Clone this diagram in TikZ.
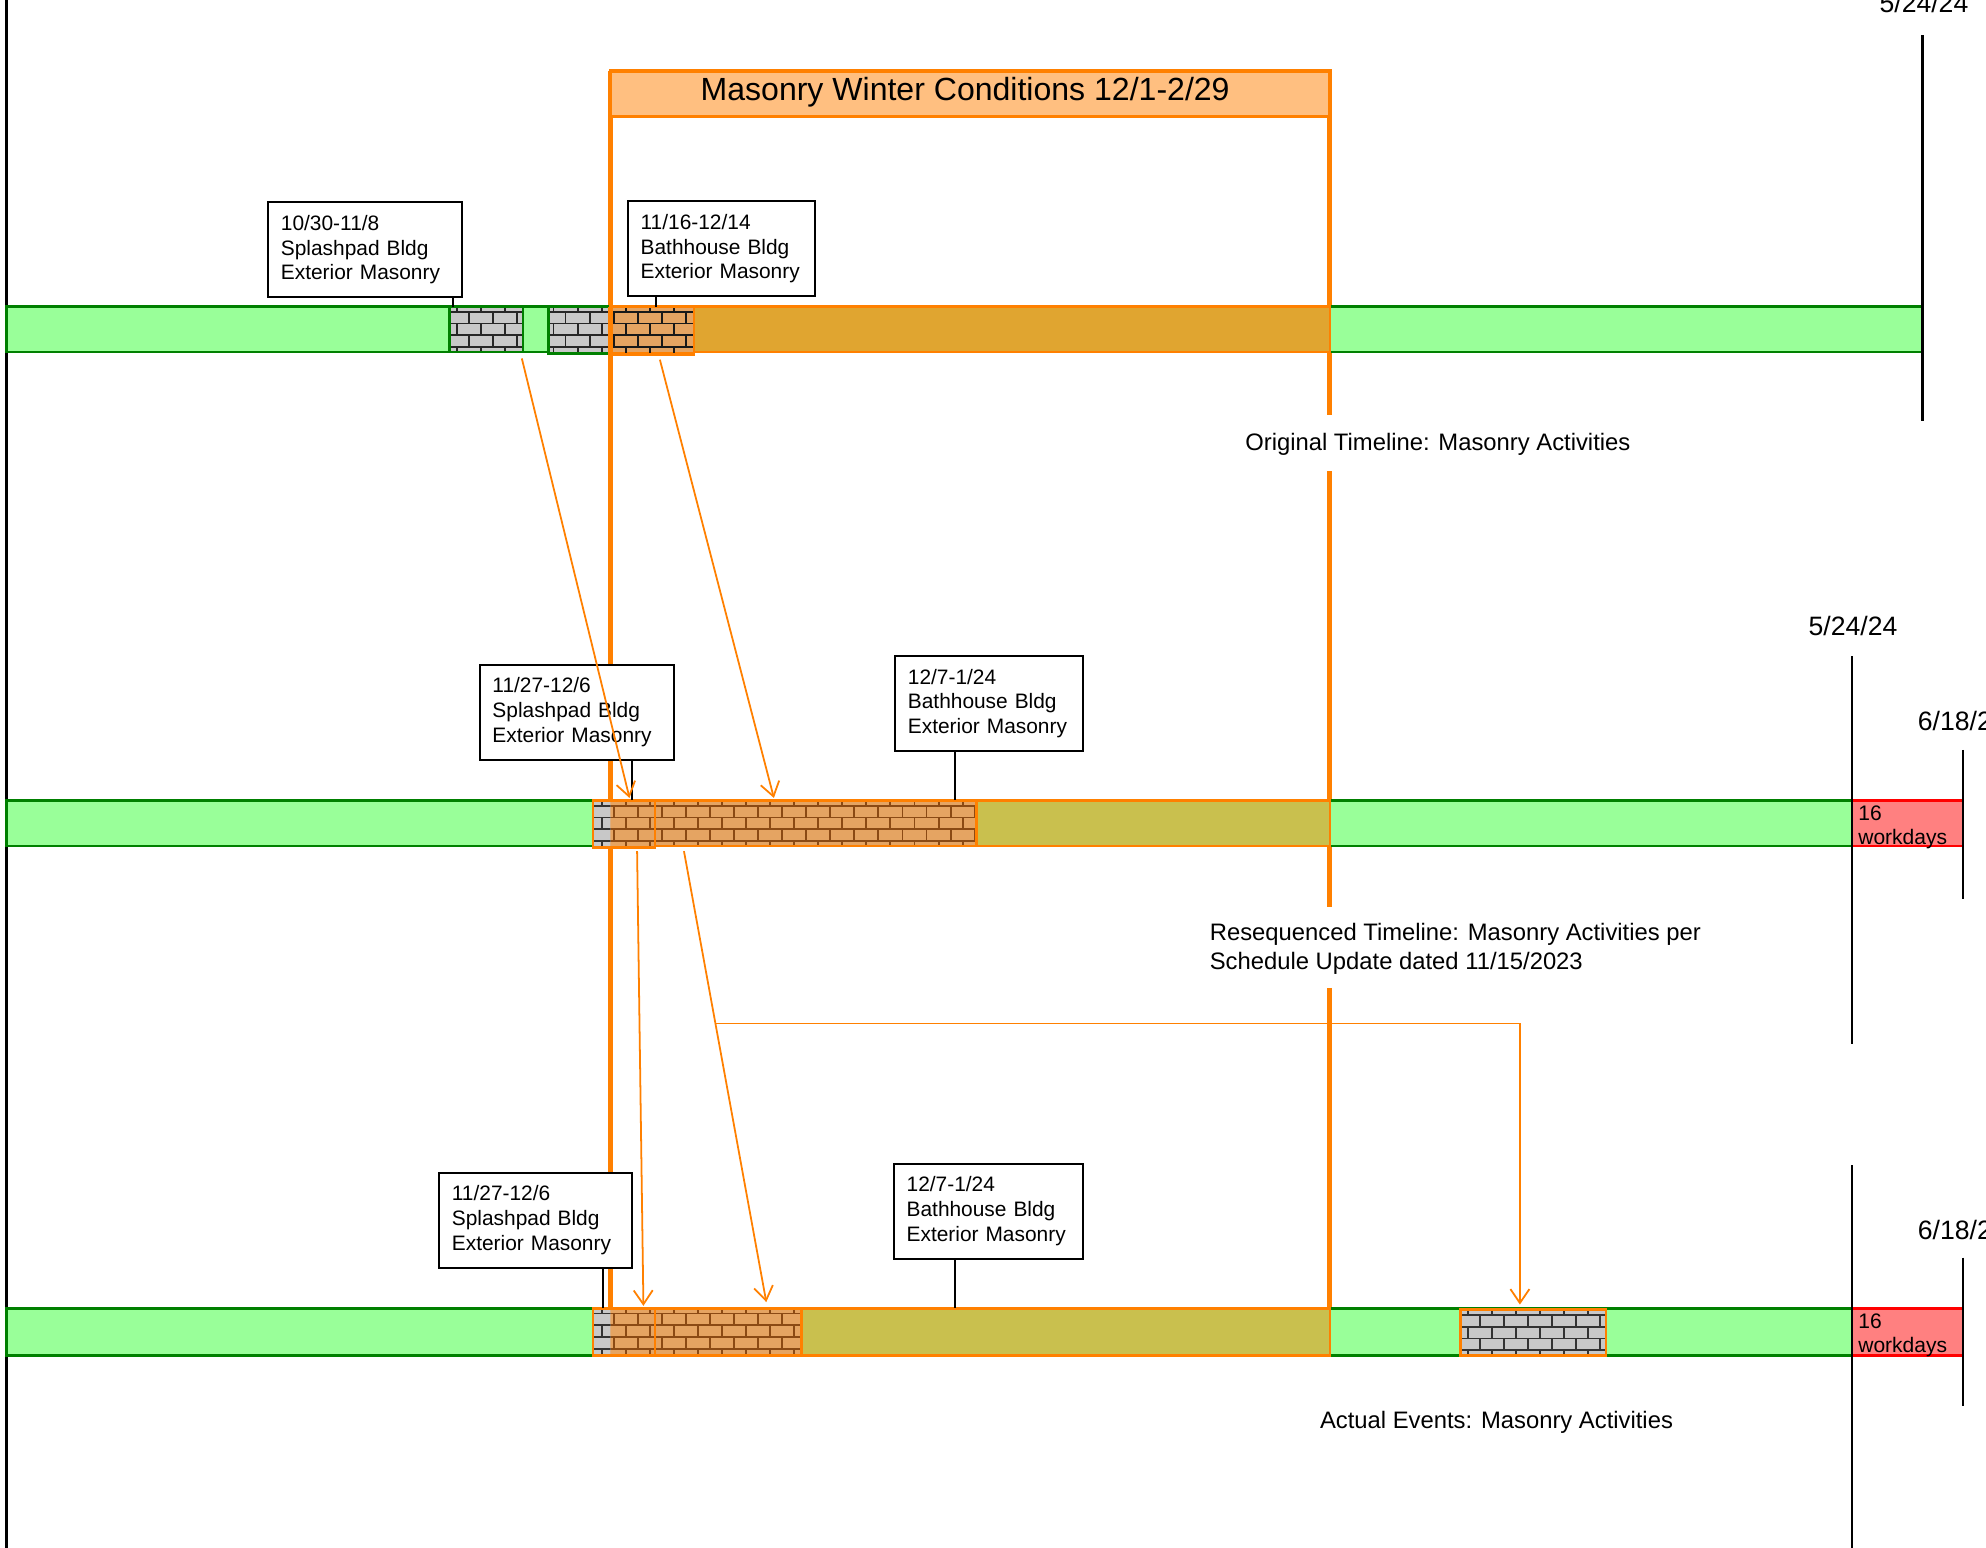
\documentclass[tikz,border=0pt]{standalone}
\usepackage{fontspec}
\setmainfont{Liberation Sans}
\usetikzlibrary{arrows.meta}
\definecolor{barg}{HTML}{99FF99}
\definecolor{barst}{HTML}{008000}
\definecolor{orn}{HTML}{FF8000}
\definecolor{hdr}{HTML}{FFBF80}
\definecolor{ovA}{HTML}{E0A530}
\definecolor{ovB}{HTML}{C9C04E}
\definecolor{brO}{HTML}{E5A462}
\definecolor{brG}{HTML}{C8C8C8}
\definecolor{brL}{HTML}{8B4A14}
\definecolor{redf}{HTML}{FF8080}
\newcommand{\brickbox}[6]{%
  \begin{scope}
    \clip (#1,#3) rectangle (#2,#4);
    \fill[#5] (#1,#3) rectangle (#2,#4);
    \pgfmathtruncatemacro\bjA{floor(#1/19)-1}
    \pgfmathtruncatemacro\bjB{ceil(#2/19)+1}
    \foreach \k in {0,...,4}{
      \pgfmathsetmacro\byA{#3+4+(\k-1)*9.4}
      \pgfmathsetmacro\byB{#3+4+\k*9.4}
      \draw[#6,line width=1.5pt] (#1,\byB) -- (#2,\byB);
      \foreach \j in {\bjA,...,\bjB}{
        \pgfmathsetmacro\bxx{\j*19+mod(\k,2)*9.5}
        \draw[#6,line width=1.5pt] (\bxx,\byA) -- (\bxx,\byB);
      }
    }
  \end{scope}}
\tikzset{
  bar/.style={fill=barg, draw=barst, line width=2pt},
  overlay/.style={draw=orn, line width=2pt},
  callout/.style={draw=black, line width=1.6pt, fill=white, align=left, anchor=north west,
    inner xsep=10pt, minimum height=75pt, font=\fontsize{16.5}{19.5}\selectfont},
  blk/.style={draw=black, line width=2pt},
  wline/.style={draw=orn, line width=4pt},
  arr/.style={draw=orn, line width=1.4pt, -{Straight Barb[length=11pt,width=15pt]}},
  lbl/.style={anchor=west, inner sep=0pt, font=\fontsize{18.8}{23}\selectfont, align=left},
  datelbl/.style={inner sep=0pt, font=\fontsize{21}{24}\selectfont}
}
\begin{document}
\begin{tikzpicture}[x=1pt,y=-1pt]
\useasboundingbox (0,0) rectangle (1568,1222);
\clip (0,0) rectangle (1568,1222);
\fill[white] (0,0) rectangle (1568,1222);

% left axis
\draw[blk] (5,0) -- (5,1222);

% winter frame verticals
\draw[wline] (482,56) -- (482,1070);
\draw[wline] (1050,56) -- (1050,328);
\draw[wline] (1050,372) -- (1050,716);
\draw[wline] (1050,780) -- (1050,1070);
\draw[draw=orn, line width=3pt, fill=hdr] (482,56) rectangle (1050,92);
\node[inner sep=0pt, font=\fontsize{25.3}{28}\selectfont] (hdr) at (762,73) {Masonry Winter Conditions 12/1-2/29};

% ===== Row 1 =====
\draw[bar] (5,242) rectangle (1518,278);
\draw[overlay, fill=ovA] (482,242) rectangle (1050,278);
\brickbox{355}{413}{242}{278}{brG}{black!85}
\draw[barst, line width=2pt] (355,242) rectangle (413,278);
\brickbox{433}{482}{242}{278}{brG}{black!85}
\draw[barst, line width=2pt] (433,242) rectangle (482,279);
\brickbox{482}{548}{242}{278}{brO}{black!90}
\draw[orn, line width=2pt] (482,242) rectangle (548,280);
\draw[wline] (482,242) -- (482,280);
\draw[blk] (1518,28) -- (1518,332);
\node[datelbl] (d1) at (1519,2) {5/24/24};

\node[callout, text width=133pt] (b1) at (211,159) {10/30-11/8\\Splashpad Bldg\\Exterior Masonry};
\node[callout, text width=128pt] (b2) at (495,158) {11/16-12/14\\Bathhouse Bldg\\Exterior Masonry};
\coordinate (c1) at (358,242);
\coordinate (c2) at (518,242);
\draw[black, line width=1.5pt] (b1.south -| c1) -- (c1);
\draw[black, line width=1.5pt] (b2.south -| c2) -- (c2);
\node[lbl] (t1) at (983,351) {Original Timeline: Masonry Activities};

% ===== Row 2 =====
\draw[bar] (5,632) rectangle (1462,668);
\draw[overlay, fill=ovB] (482,632) rectangle (1050,668);
\brickbox{468}{482}{632}{668}{brG}{black!80}
\brickbox{482}{517}{632}{668}{brO}{brL}
\draw[orn, line width=2pt] (468,632) rectangle (517,669);
\brickbox{517}{771}{632}{668}{brO}{brL}
\draw[orn, line width=2pt] (517,632) rectangle (771,668);
\draw[fill=redf, draw=red, line width=2pt] (1462,632) rectangle (1550,668);
\node[anchor=north west, inner sep=0pt, align=left, font=\fontsize{16.6}{19}\selectfont] (w2) at (1467,636) {16\\workdays};
\draw[blk] (1462,518) -- (1462,824);
\draw[blk] (1550,592) -- (1550,710);
\node[datelbl] (d2) at (1463,494) {5/24/24};
\node[datelbl, anchor=west] (d3) at (1514,569) {6/18/24};

\node[callout, text width=133pt] (b3) at (378,524) {11/27-12/6\\Splashpad Bldg\\Exterior Masonry};
\node[callout, text width=128pt] (b4) at (706,517) {12/7-1/24\\Bathhouse Bldg\\Exterior Masonry};
\coordinate (c3) at (499,632);
\coordinate (c4) at (754,632);
\draw[black, line width=1.5pt] (b3.south -| c3) -- (c3);
\draw[black, line width=1.5pt] (b4.south -| c4) -- (c4);
\node[lbl] (t2) at (955,749) {Resequenced Timeline: Masonry Activities per\\Schedule Update dated 11/15/2023};

% ===== Row 3 =====
\draw[bar] (5,1033) rectangle (1462,1070);
\draw[overlay, fill=ovB] (482,1033) rectangle (1050,1070);
\brickbox{468}{482}{1033}{1070}{brG}{black!80}
\brickbox{482}{517}{1033}{1070}{brO}{brL}
\draw[orn, line width=2pt] (468,1033) rectangle (517,1070);
\brickbox{517}{633}{1033}{1070}{brO}{brL}
\draw[orn, line width=2pt] (517,1033) rectangle (633,1070);
\brickbox{1153}{1268}{1034}{1070}{brG}{black!80}
\draw[orn, line width=2pt] (1153,1034) rectangle (1268,1070);
\draw[fill=redf, draw=red, line width=2pt] (1462,1033) rectangle (1550,1070);
\node[anchor=north west, inner sep=0pt, align=left, font=\fontsize{16.6}{19}\selectfont] (w3) at (1467,1037) {16\\workdays};
\draw[blk] (1462,920) -- (1462,1222);
\draw[blk] (1550,993) -- (1550,1110);
\node[datelbl, anchor=west] (d4) at (1514,971) {6/18/24};

\node[callout, text width=132pt] (b5) at (346,925) {11/27-12/6\\Splashpad Bldg\\Exterior Masonry};
\node[callout, text width=129pt] (b6) at (705,918) {12/7-1/24\\Bathhouse Bldg\\Exterior Masonry};
\coordinate (c5) at (476,1033);
\coordinate (c6) at (754,1033);
\draw[black, line width=1.5pt] (b5.south -| c5) -- (c5);
\draw[black, line width=1.5pt] (b6.south -| c6) -- (c6);
\node[lbl] (t3) at (1042,1123) {Actual Events: Masonry Activities};

% ===== arrows =====
\coordinate (a1s) at (412,283);
\coordinate (a1e) at (497,630);
\coordinate (a2s) at (521,284);
\coordinate (a2e) at (611,630);
\coordinate (a3s) at (503,672);
\coordinate (a3e) at (508,1031);
\coordinate (a4s) at (540,672);
\coordinate (a4e) at (605,1028);
\coordinate (a5s) at (565.5,808);
\coordinate (a5e) at (1200,1030);
\draw[arr] (a1s) -- (a1e);
\draw[arr] (a2s) -- (a2e);
\draw[arr] (a3s) -- (a3e);
\draw[arr] (a4s) -- (a4e);
\draw[arr] (a5s) -| (a5e);
\end{tikzpicture}
\end{document}
